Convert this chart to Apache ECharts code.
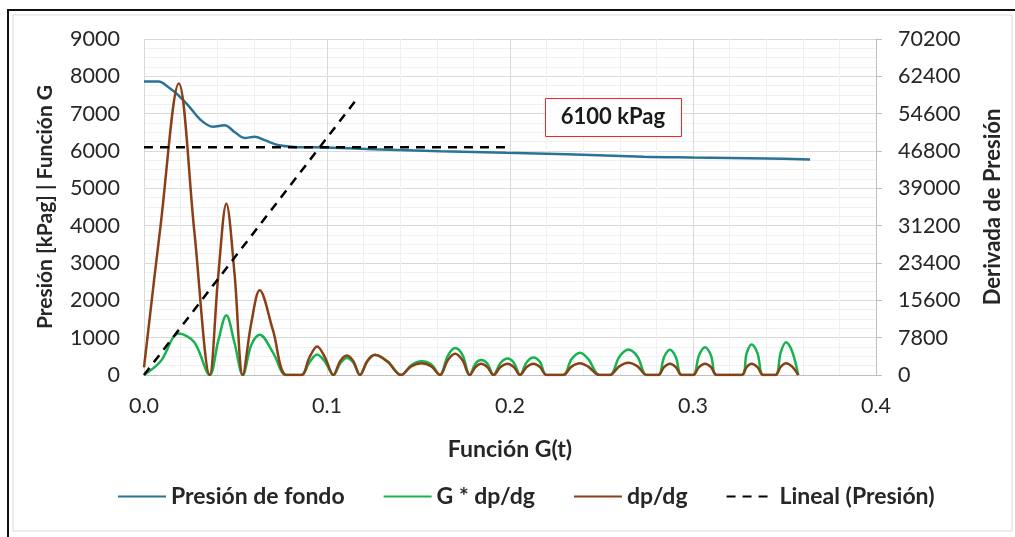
<!DOCTYPE html>
<html>
<head>
<meta charset="utf-8">
<script src="https://cdn.jsdelivr.net/npm/echarts@6/dist/echarts.min.js"></script>
<style>
  html, body { margin: 0; padding: 0; background: #ffffff; }
  #chart { width: 1015px; height: 537px; }
</style>
</head>
<body>
<div id="chart"></div>
<script>
// Bottom-hole pressure vs. G-function time (kPag)
const gFondo = [0, 0.008, 0.013, 0.0186, 0.024, 0.031, 0.0377, 0.044, 0.0495, 0.055, 0.0605, 0.066, 0.073, 0.082, 0.099, 0.125, 0.162, 0.198, 0.231, 0.273, 0.3, 0.34, 0.364];
const presionFondo = [7860, 7860, 7720, 7500, 7230, 6830, 6650, 6690, 6510, 6350, 6380, 6290, 6160, 6110, 6095, 6050, 5995, 5950, 5915, 5845, 5825, 5800, 5775];

// Derivative curves share the same G-function samples
const gDeriv = [
  0, 0.009, 0.019, 0.0275, 0.0359,
  0.0405, 0.045, 0.0495, 0.054,
  0.0586, 0.0632, 0.0705, 0.0778,
  0.086, 0.0903, 0.0946, 0.099, 0.1035,
  0.1072, 0.1108, 0.1144, 0.118,
  0.1221, 0.1262, 0.133, 0.1405,
  0.146, 0.1517, 0.157, 0.1617,
  0.166, 0.170, 0.174, 0.178,
  0.1811, 0.1843, 0.1876, 0.191,
  0.1948, 0.1987, 0.2021, 0.2055,
  0.2091, 0.2128, 0.2164, 0.22,
  0.229, 0.2336, 0.2383, 0.2427, 0.249,
  0.2546, 0.2597, 0.2647, 0.2697, 0.2747,
  0.281, 0.2842, 0.2874, 0.2906, 0.2938,
  0.300, 0.3033, 0.3066, 0.3098, 0.313,
  0.3266, 0.3293, 0.332, 0.3352, 0.3384,
  0.345, 0.348, 0.3508, 0.3542, 0.3575
];
// dp/dg (right axis)
const dpdg = [
  1600, 31000, 60900, 30000, 0,
  20400, 35800, 21000, 0,
  10800, 17700, 9300, 0,
  0, 3600, 5960, 3600, 0,
  2900, 4080, 2900, 0,
  3000, 4220, 2800, 0,
  1800, 2470, 1800, 0,
  3100, 4430, 3100, 0,
  1650, 2340, 1650, 0,
  1650, 2340, 1650, 0,
  1650, 2340, 1650, 0,
  0, 1750, 2470, 1750, 0,
  0, 1800, 2550, 1800, 0,
  0, 1650, 2340, 1650, 0,
  0, 1650, 2340, 1650, 0,
  0, 1650, 2340, 1650, 0,
  0, 1750, 2470, 1750, 0
];
// G * dp/dg (left axis)
const gDpdg = [
  0, 360, 1110, 880, 0,
  900, 1600, 850, 0,
  800, 1080, 600, 0,
  0, 330, 550, 350, 0,
  310, 455, 330, 0,
  370, 535, 370, 0,
  260, 365, 280, 0,
  510, 720, 540, 0,
  300, 400, 310, 0,
  320, 440, 330, 0,
  340, 470, 350, 0,
  0, 420, 595, 430, 0,
  0, 480, 680, 490, 0,
  0, 480, 676, 480, 0,
  0, 530, 746, 530, 0,
  0, 580, 818, 590, 0,
  0, 620, 880, 630, 0
];

// Linear trend of the pressure and the closure pressure level
const linealG = [0, 0.1158];
const linealP = [0, 7360];
const cierreG = [0, 0.2];
const presionCierre = 6100;
const etiquetaCierre = presionCierre + ' kPag';
// Annotation box corners, in axis units (G, kPag)
const cajaG = [0.2191, 0.2934];
const cajaP = [7420, 6402];

// Axis scales
const xMax = 0.4, xStep = 0.1;
const yLeftMax = 9000, yLeftStep = 1000;
const yRightMax = 70200, yRightStep = 7800;

const pairs = (xs, ys) => xs.map((x, i) => [x, ys[i]]);

const FONT = 'Lato, "Liberation Sans", sans-serif';
const textDark = '#262626';
const TICK_SIZE = 21.5;
const TITLE_SIZE = 22;

const chart = echarts.init(document.getElementById('chart'), null, { renderer: 'canvas' });

const frame = [
  { type: 'rect', shape: { x: 13, y: 15, width: 999, height: 516 }, style: { fill: 'none', stroke: '#d9d9d9', lineWidth: 1 }, silent: true },
  { type: 'rect', shape: { x: 7, y: 9, width: 1010, height: 2 }, style: { fill: '#111111' }, silent: true },
  { type: 'rect', shape: { x: 7, y: 9, width: 2, height: 530 }, style: { fill: '#111111' }, silent: true }
];

chart.setOption({
  animation: false,
  backgroundColor: '#ffffff',
  textStyle: { fontFamily: FONT },
  graphic: frame,
  grid: { left: 144, top: 39, width: 732, height: 336, containLabel: false },
  legend: {
    data: ['Presión de fondo', 'G * dp/dg', 'dp/dg', 'Lineal (Presión)'],
    bottom: 24,
    left: 112,
    itemWidth: 48,
    itemHeight: 14,
    itemGap: 38,
    itemStyle: { opacity: 0 },
    textStyle: { fontFamily: FONT, fontSize: 23, fontWeight: 'bold', color: textDark }
  },
  xAxis: {
    type: 'value',
    min: 0,
    max: xMax,
    interval: xStep,
    name: 'Función G(t)',
    nameLocation: 'middle',
    nameGap: 63,
    nameTextStyle: { fontFamily: FONT, fontSize: 23, fontWeight: 'bold', color: textDark },
    axisLine: { show: true, lineStyle: { color: '#bfbfbf', width: 1 } },
    axisTick: { show: false },
    axisLabel: { margin: 20, fontSize: TICK_SIZE, color: textDark, formatter: v => v.toFixed(1) },
    splitLine: { show: true, lineStyle: { color: '#d9d9d9', width: 1 } },
    minorTick: { show: false, splitNumber: 5 },
    minorSplitLine: { show: true, lineStyle: { color: '#f0f0f0', width: 1 } }
  },
  yAxis: [
    {
      type: 'value',
      min: 0,
      max: yLeftMax,
      interval: yLeftStep,
      name: 'Presión [kPag] | Función G',
      nameLocation: 'middle',
      nameGap: 88,
      nameTextStyle: { fontFamily: FONT, fontSize: 21, fontWeight: 'bold', color: textDark },
      axisLine: { show: false },
      axisTick: { show: false },
      axisLabel: { margin: 24, fontSize: TICK_SIZE, color: textDark, formatter: v => String(v) },
      splitLine: { show: true, lineStyle: { color: '#d9d9d9', width: 1 } },
      minorTick: { show: false, splitNumber: 4 },
      minorSplitLine: { show: true, lineStyle: { color: '#f0f0f0', width: 1 } }
    },
    {
      type: 'value',
      min: 0,
      max: yRightMax,
      interval: yRightStep,
      position: 'right',
      name: 'Derivada de Presión',
      nameLocation: 'middle',
      nameGap: 106,
      nameTextStyle: { fontFamily: FONT, fontSize: TITLE_SIZE, fontWeight: 'bold', color: textDark },
      axisLine: { show: true, lineStyle: { color: '#bfbfbf', width: 1 } },
      axisTick: { show: true, length: 6, lineStyle: { color: '#bfbfbf' } },
      axisLabel: { margin: 22, fontSize: TICK_SIZE, color: textDark, formatter: v => String(v) },
      splitLine: { show: false }
    }
  ],
  series: [
    {
      name: 'Presión de fondo',
      type: 'line',
      yAxisIndex: 0,
      data: pairs(gFondo, presionFondo),
      smooth: 0.35,
      symbol: 'none',
      lineStyle: { color: '#2a7394', width: 2.5 },
      itemStyle: { color: '#2a7394' },
      z: 2
    },
    {
      name: 'G * dp/dg',
      type: 'line',
      yAxisIndex: 0,
      data: pairs(gDeriv, gDpdg),
      smooth: 0.35,
      symbol: 'none',
      lineStyle: { color: '#17b350', width: 2.5 },
      itemStyle: { color: '#17b350' },
      z: 3
    },
    {
      name: 'dp/dg',
      type: 'line',
      yAxisIndex: 1,
      data: pairs(gDeriv, dpdg),
      smooth: 0.35,
      symbol: 'none',
      lineStyle: { color: '#8a3f17', width: 2.5 },
      itemStyle: { color: '#8a3f17' },
      z: 4
    },
    {
      name: 'Lineal (Presión)',
      type: 'line',
      yAxisIndex: 0,
      data: pairs(linealG, linealP),
      symbol: 'none',
      lineStyle: { color: '#000000', width: 2.5, type: [9, 7] },
      itemStyle: { color: '#000000' },
      z: 5
    },
    {
      name: 'Cierre',
      type: 'line',
      yAxisIndex: 0,
      data: pairs(cierreG, cierreG.map(() => presionCierre)),
      symbol: 'none',
      lineStyle: { color: '#000000', width: 2.5, type: [9, 7] },
      z: 5
    }
  ]
});

// Closure-pressure annotation box, placed through the axes
const p1 = chart.convertToPixel({ gridIndex: 0 }, [cajaG[0], cajaP[0]]);
const p2 = chart.convertToPixel({ gridIndex: 0 }, [cajaG[1], cajaP[1]]);
chart.setOption({
  graphic: frame.concat([
    {
      type: 'rect',
      shape: { x: Math.round(p1[0]) + 0.5, y: Math.round(p1[1]) + 0.5, width: Math.round(p2[0] - p1[0]), height: Math.round(p2[1] - p1[1]) },
      style: { fill: '#ffffff', stroke: '#ff2020', lineWidth: 1 },
      z: 10,
      silent: true
    },
    {
      type: 'text',
      x: (p1[0] + p2[0]) / 2,
      y: (p1[1] + p2[1]) / 2,
      style: {
        text: etiquetaCierre,
        fontFamily: FONT,
        fontSize: TITLE_SIZE,
        fontWeight: 'bold',
        fill: '#1a1a1a',
        align: 'center',
        verticalAlign: 'middle'
      },
      z: 11,
      silent: true
    }
  ])
});
</script>
</body>
</html>
